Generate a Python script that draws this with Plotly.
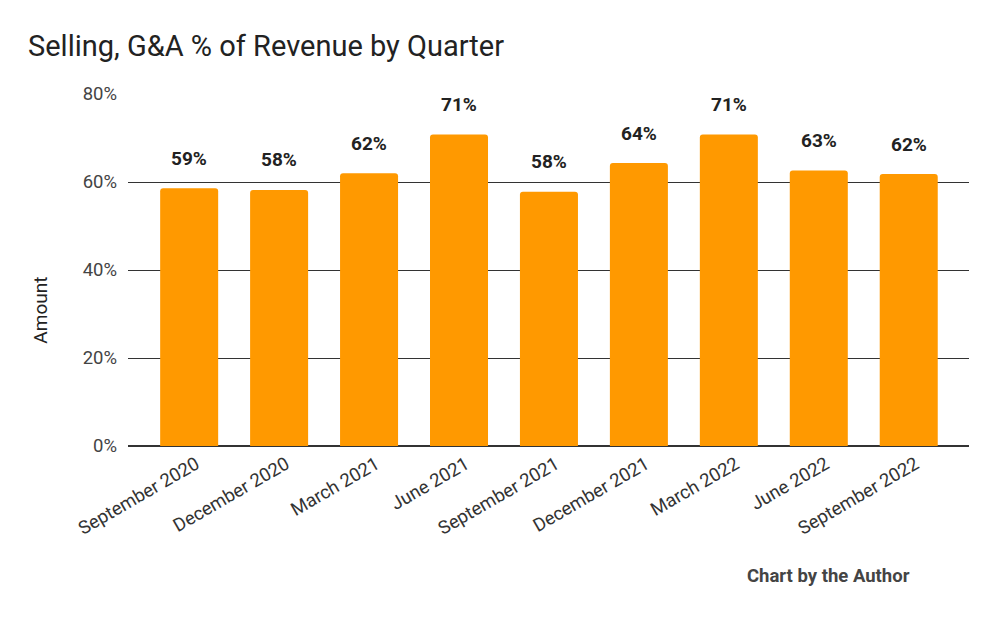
import plotly.graph_objects as go

quarters = ["September 2020", "December 2020", "March 2021", "June 2021",
            "September 2021", "December 2021", "March 2022", "June 2022",
            "September 2022"]
sga_pct = [58.6, 58.2, 62.0, 70.8, 57.8, 64.3, 70.8, 62.6, 61.8]
tick_vals = [0, 20, 40, 60, 80]
tick_text = ["0%", "20%", "40%", "60%", "80%"]

FONT = "Roboto"

fig = go.Figure()
fig.add_trace(go.Bar(
    x=quarters, y=sga_pct,
    marker=dict(color="#FF9900", cornerradius=3, line=dict(width=0)),
    hoverinfo="skip",
))

for q, v in zip(quarters, sga_pct):
    fig.add_annotation(x=q, y=v, text=f"<b>{round(v):d}%</b>", showarrow=False,
                       yshift=30, font=dict(family=FONT, size=19, color="#222222"))

fig.add_annotation(xref="paper", yref="paper", x=(912 - 128) / 841, y=-0.370,
                   xanchor="right", yanchor="middle", showarrow=False,
                   text="<b>Chart by the Author</b>",
                   font=dict(family=FONT, size=18.5, color="#444444"))

fig.add_annotation(xref="paper", yref="paper", x=(40.5 - 128) / 841, y=0.386,
                   xanchor="center", yanchor="middle", showarrow=False,
                   text="Amount", textangle=-90,
                   font=dict(family=FONT, size=19, color="#222222"))

fig.update_layout(
    width=1000, height=618,
    margin=dict(l=128, r=31, t=94, b=172),
    paper_bgcolor="white", plot_bgcolor="white",
    showlegend=False,
    bargap=0.355,
    title=dict(text="Selling, G&A % of Revenue by Quarter", x=28/1000, xanchor="left",
               y=1 - 46/618, yanchor="middle",
               font=dict(family=FONT, size=29, color="#222222")),
    xaxis=dict(range=[-0.68, 8.67], tickangle=-30, showgrid=False, ticks="",
               tickfont=dict(family=FONT, size=18.5, color="#333333"),
               ticklabelshift=7, ticklabelstandoff=3,
               showline=False, zeroline=False),
    yaxis=dict(range=[0, 80], tickvals=tick_vals, ticktext=tick_text,
               showgrid=True, gridcolor="#333333", gridwidth=1,
               zeroline=True, zerolinecolor="#333333", zerolinewidth=2,
               tickfont=dict(family=FONT, size=18.5, color="#444444"),
               ticks="", ticklabelstandoff=10),
)

fig.write_html("out.html")
